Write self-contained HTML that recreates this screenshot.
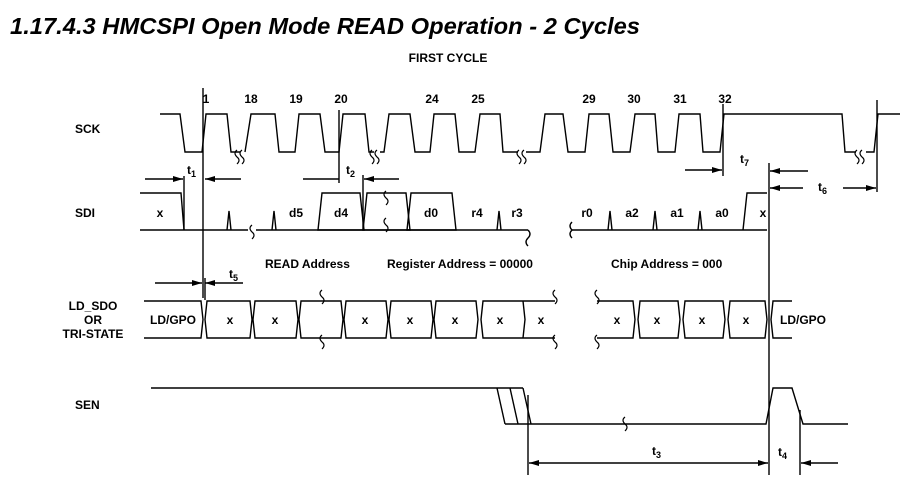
<!DOCTYPE html>
<html><head><meta charset="utf-8"><style>
html,body{margin:0;padding:0;background:#fff;}
svg{display:block;}
text{font-family:"Liberation Sans",sans-serif;fill:#000;}
.l{fill:none;stroke:#000;stroke-width:1.4;}
.t{font-size:12px;font-weight:bold;}
</style></head><body>
<svg width="924" height="504" viewBox="0 0 924 504" xmlns="http://www.w3.org/2000/svg">
<defs>
<marker id="ar" viewBox="0 0 10 6" refX="10" refY="3" markerWidth="10" markerHeight="6" orient="auto" markerUnits="userSpaceOnUse"><path d="M0,0 L10,3 L0,6z" fill="#000"/></marker>
<path id="sq" d="M0,-7 q-4,3 0,7 q4,3 0,7" fill="none" stroke="#000" stroke-width="1.2"/>
</defs>
<text x="10" y="34" font-size="23" font-weight="bold" font-style="italic" textLength="630" lengthAdjust="spacingAndGlyphs">1.17.4.3 HMCSPI Open Mode READ Operation - 2 Cycles</text>
<text x="448" y="62" class="t" text-anchor="middle" font-size="11">FIRST  CYCLE</text>

<!-- labels -->
<text x="75" y="133" class="t">SCK</text>
<text x="75" y="217" class="t">SDI</text>
<text x="93" y="310" class="t" text-anchor="middle">LD_SDO</text>
<text x="93" y="324" class="t" text-anchor="middle">OR</text>
<text x="93" y="338" class="t" text-anchor="middle">TRI-STATE</text>
<text x="75" y="409" class="t">SEN</text>

<!-- clock numbers -->
<g class="t" text-anchor="middle">
<text x="206" y="103">1</text><text x="251" y="103">18</text><text x="296" y="103">19</text><text x="341" y="103">20</text>
<text x="432" y="103">24</text><text x="478" y="103">25</text><text x="589" y="103">29</text><text x="634" y="103">30</text>
<text x="680" y="103">31</text><text x="725" y="103">32</text>
</g>

<!-- SCK -->
<polyline class="l" points="160,114 180,114 185,152 202,152 206,114 227,114 231,152 240,152"/>
<polyline class="l" points="245,152 251,114 275,114 279,152 295,152 299,114 320,114 325,152 339,152 343,114 365,114 369,152 374,152"/>
<polyline class="l" points="380,152 384,152 389,114 410,114 415,152 430,152 434,114 455,114 459,152 475,152 480,114 500,114 503,152 518,152"/>
<polyline class="l" points="526,152 540,152 545,114 563,114 568,152 585,152 589,114 609,114 613,152 630,152 635,114 655,114 658,152 675,152 679,114 700,114 703,152 720,152 724,114 842,114 845,152 856,152"/>
<polyline class="l" points="866,152 874,152 878,114 900,114"/>
<use href="#sq" x="237" y="157"/><use href="#sq" x="242" y="157"/>
<use href="#sq" x="372" y="157"/><use href="#sq" x="377" y="157"/>
<use href="#sq" x="519" y="157"/><use href="#sq" x="524" y="157"/>
<use href="#sq" x="857" y="157"/><use href="#sq" x="862" y="157"/>

<!-- vertical reference lines -->
<line class="l" x1="203" y1="88" x2="203" y2="298"/>
<line class="l" x1="339" y1="110" x2="339" y2="183"/>
<line class="l" x1="723" y1="104" x2="723" y2="176"/>
<line class="l" x1="877" y1="100" x2="877" y2="192"/>
<line class="l" x1="769" y1="163" x2="769" y2="475"/>
<line class="l" x1="184" y1="176" x2="184" y2="230"/>
<line class="l" x1="363" y1="175" x2="363" y2="230"/>

<!-- t1 -->
<line class="l" x1="145" y1="179" x2="183" y2="179" marker-end="url(#ar)"/>
<line class="l" x1="241" y1="179" x2="205" y2="179" marker-end="url(#ar)"/>
<text x="187" y="174" class="t">t<tspan font-size="9" dy="3">1</tspan></text>
<!-- t2 -->
<line class="l" x1="303" y1="179" x2="339" y2="179"/>
<line class="l" x1="399" y1="179" x2="364" y2="179" marker-end="url(#ar)"/>
<text x="346" y="174" class="t">t<tspan font-size="9" dy="3">2</tspan></text>
<!-- t7 -->
<line class="l" x1="685" y1="170" x2="722" y2="170" marker-end="url(#ar)"/>
<text x="740" y="163" class="t">t<tspan font-size="9" dy="3">7</tspan></text>
<line class="l" x1="808" y1="171" x2="770" y2="171" marker-end="url(#ar)"/>
<line class="l" x1="803" y1="188" x2="770" y2="188" marker-end="url(#ar)"/>
<text x="818" y="191" class="t">t<tspan font-size="9" dy="3">6</tspan></text>
<line class="l" x1="843" y1="188" x2="876" y2="188" marker-end="url(#ar)"/>

<!-- SDI -->
<polyline class="l" points="140,193 181,193 184,230"/>
<polyline class="l" points="140,230 248,230"/>
<polyline class="l" points="256,230 528,230"/>
<polyline class="l" points="227,230 229,211 231,230"/>
<polyline class="l" points="272,230 274,211 276,230"/>
<use href="#sq" x="252" y="232"/>
<polygon class="l" points="318,230 322,193 360,193 364,230"/>
<polygon class="l" points="363,230 367,193 406,193 410,230"/>
<polygon class="l" points="407,230 411,193 452,193 456,230"/>
<polyline class="l" points="497,230 499,211 501,230"/>
<use href="#sq" x="386" y="198"/><use href="#sq" x="386" y="225"/>
<path class="l" d="M528,230 q4,4 0,8 q-4,4 0,8"/>
<path class="l" d="M572,230 q-4,-4 0,-8 M572,230 q-4,4 0,8"/>
<polyline class="l" points="572,230 767,230"/>
<polyline class="l" points="608,230 610,211 612,230"/>
<polyline class="l" points="653,230 655,211 657,230"/>
<polyline class="l" points="698,230 700,211 702,230"/>
<polyline class="l" points="743,230 747,193 767,193"/>
<g class="t" text-anchor="middle">
<text x="160" y="217">x</text><text x="296" y="217">d5</text><text x="341" y="217">d4</text><text x="431" y="217">d0</text>
<text x="477" y="217">r4</text><text x="517" y="217">r3</text><text x="587" y="217">r0</text><text x="632" y="217">a2</text>
<text x="677" y="217">a1</text><text x="722" y="217">a0</text><text x="763" y="217">x</text>
</g>

<!-- t5 -->
<line class="l" x1="155" y1="283" x2="202" y2="283" marker-end="url(#ar)"/>
<line class="l" x1="243" y1="283" x2="205" y2="283" marker-end="url(#ar)"/>
<line class="l" x1="205" y1="278" x2="205" y2="300"/>
<text x="229" y="278" class="t">t<tspan font-size="9" dy="3">5</tspan></text>

<g class="t">
<text x="265" y="268">READ  Address</text>
<text x="387" y="268">Register  Address  =  00000</text>
<text x="611" y="268">Chip  Address  =  000</text>
</g>

<!-- LD_SDO boxes -->
<polyline class="l" points="144,301 201,301 203,319.5 201,338 144,338"/>
<g class="l">
<polygon points="207,301 250,301 252,319.5 250,338 207,338 205,319.5"/>
<polygon points="255,301 296,301 298,319.5 296,338 255,338 253,319.5"/>
<polygon points="301,301 341,301 343,319.5 341,338 301,338 299,319.5"/>
<polygon points="346,301 386,301 388,319.5 386,338 346,338 344,319.5"/>
<polygon points="391,301 431,301 433,319.5 431,338 391,338 389,319.5"/>
<polygon points="436,301 476,301 478,319.5 476,338 436,338 434,319.5"/>
<polyline points="555,301 483,301 481,319.5 483,338 555,338"/>
<polyline points="523,301 525,319.5 523,338"/>
<polyline points="597,301 633,301 635,319.5 633,338 597,338"/>
<polygon points="640,301 678,301 680,319.5 678,338 640,338 638,319.5"/>
<polygon points="685,301 723,301 725,319.5 723,338 685,338 683,319.5"/>
<polygon points="730,301 765,301 767,319.5 765,338 730,338 728,319.5"/>
<polyline points="792,301 773,301 771,319.5 773,338 792,338"/>
</g>
<use href="#sq" x="322" y="297"/><use href="#sq" x="322" y="342"/>
<use href="#sq" x="555" y="297"/><use href="#sq" x="555" y="342"/>
<use href="#sq" x="597" y="297"/><use href="#sq" x="597" y="342"/>
<g class="t" text-anchor="middle">
<text x="173" y="324">LD/GPO</text>
<text x="230" y="324">x</text><text x="275" y="324">x</text><text x="365" y="324">x</text><text x="410" y="324">x</text>
<text x="455" y="324">x</text><text x="500" y="324">x</text><text x="541" y="324">x</text><text x="617" y="324">x</text>
<text x="657" y="324">x</text><text x="702" y="324">x</text><text x="746" y="324">x</text>
<text x="803" y="324">LD/GPO</text>
</g>

<!-- SEN -->
<polyline class="l" points="151,388 523,388"/>
<line class="l" x1="497" y1="388" x2="505" y2="424"/>
<line class="l" x1="510" y1="388" x2="518" y2="424"/>
<line class="l" x1="523" y1="388" x2="531" y2="424"/>
<polyline class="l" points="505,424 766,424 773,388 792,388 803,424 848,424"/>
<use href="#sq" x="625" y="424"/>
<line class="l" x1="528" y1="395" x2="528" y2="475"/>
<line class="l" x1="800" y1="410" x2="800" y2="475"/>
<line class="l" x1="600" y1="463" x2="529" y2="463" marker-end="url(#ar)"/>
<line class="l" x1="600" y1="463" x2="768" y2="463" marker-end="url(#ar)"/>
<text x="652" y="455" class="t">t<tspan font-size="9" dy="3">3</tspan></text>
<text x="778" y="456" class="t">t<tspan font-size="9" dy="3">4</tspan></text>
<line class="l" x1="838" y1="463" x2="801" y2="463" marker-end="url(#ar)"/>
</svg>
</body></html>
